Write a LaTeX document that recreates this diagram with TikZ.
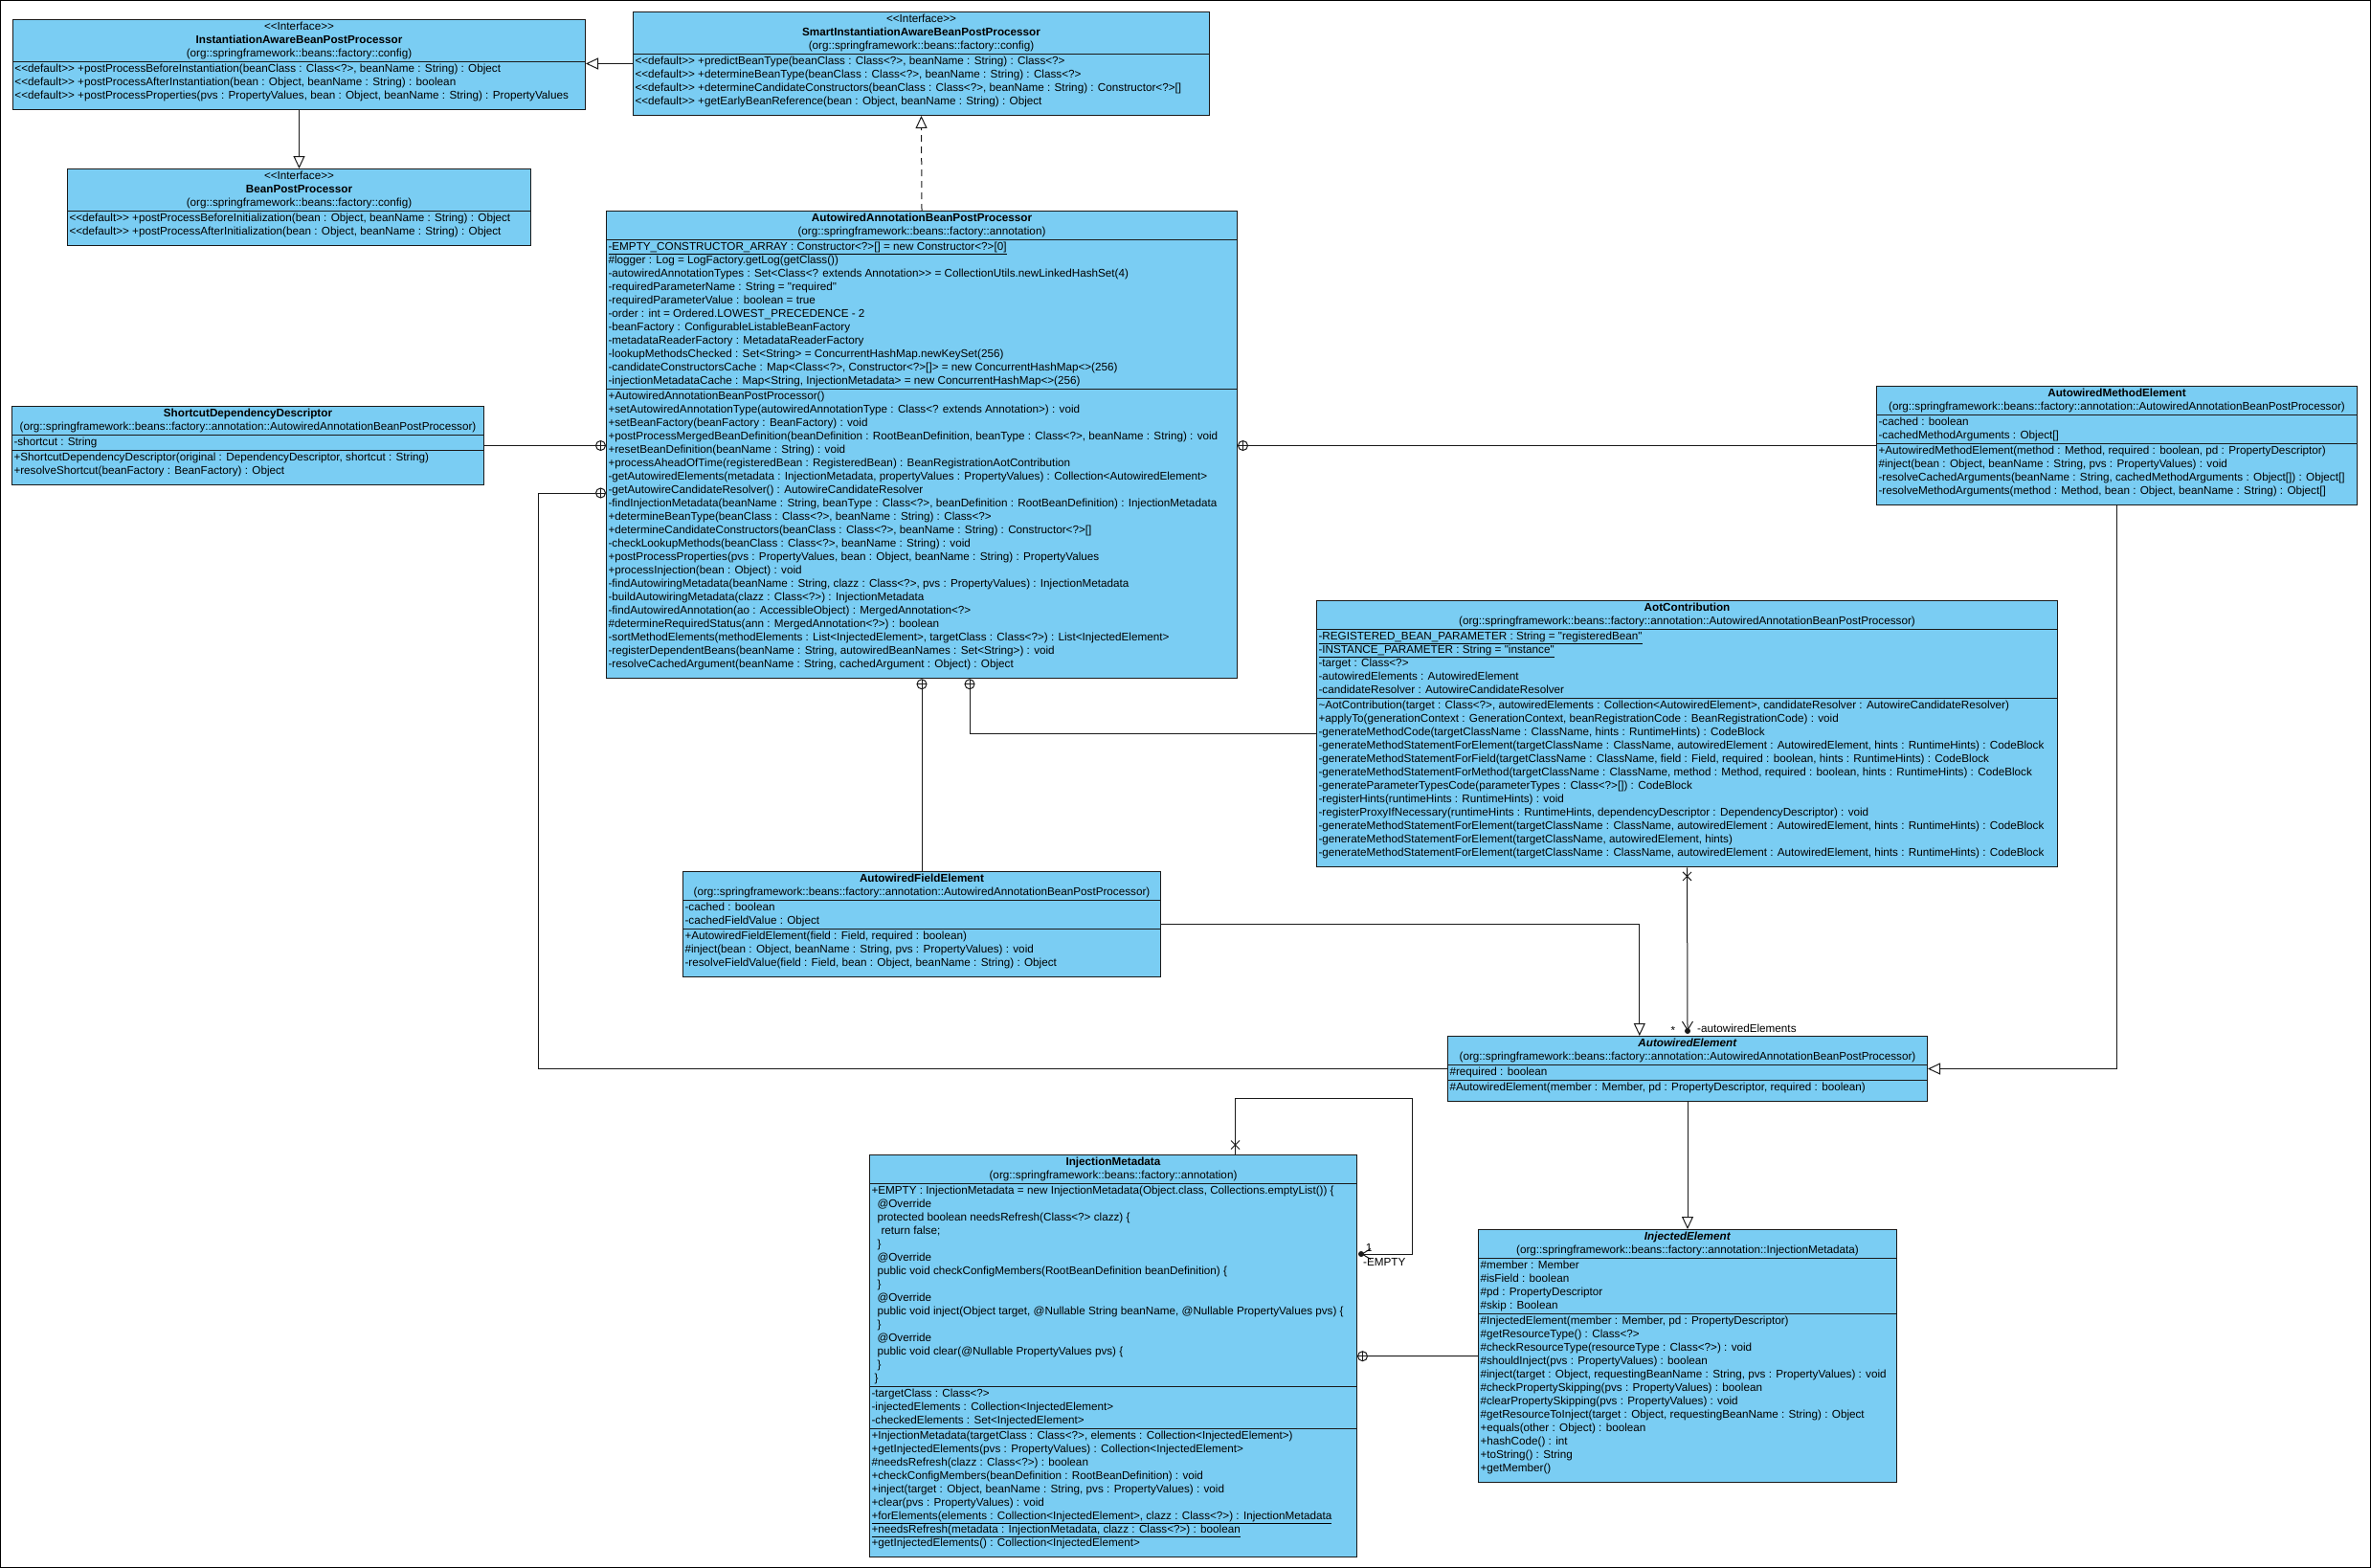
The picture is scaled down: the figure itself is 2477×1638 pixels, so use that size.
\documentclass[tikz,border=0pt]{standalone}
\usepackage{fontspec}
\setmainfont{Liberation Sans}[Ligatures=TeXOff]
\usepackage{tikz}
\usetikzlibrary{arrows.meta,positioning,calc,shapes.multipart,shapes.misc}
\definecolor{clsfill}{HTML}{7ACDF3}
\definecolor{clsline}{HTML}{1A1A1A}
\newcommand{\ifhead}[2]{\begin{tabular}{@{}c@{}}<<Interface>>\\\textbf{#1}\\(#2)\end{tabular}}
\newcommand{\clhead}[2]{\begin{tabular}{@{}c@{}}\textbf{#1}\\(#2)\end{tabular}}
\newcommand{\abhead}[2]{\begin{tabular}{@{}c@{}}\textbf{\textit{#1}}\\(#2)\end{tabular}}
\newcommand{\mbrs}[1]{\begin{tabular}{@{}l@{}}#1\end{tabular}}
\newcommand{\lastmbrs}[1]{\begin{tabular}{@{}l@{}}#1\\[6pt]\end{tabular}}
\newcommand{\pkgap}{org::springframework::beans::factory::annotation::AutowiredAnnotationBeanPostProcessor}
\tikzset{cls/.style={rectangle split,rectangle split parts=3,rectangle split part align={center,left,left,left},draw=clsline,line width=1pt,fill=clsfill,inner xsep=2pt,inner ysep=0.5pt,anchor=north west,font=\fontsize{11.7}{14}\selectfont},ifc/.style={cls,rectangle split parts=2},conn/.style={draw=clsline,line width=1pt},gen/.style={conn,-{Triangle[length=13pt,width=12pt,fill=white]}},real/.style={gen,dash pattern=on 7pt off 5pt},assoc/.style={conn,-{Straight Barb[length=9pt,width=11pt]}},nest/.style={circle,draw=clsline,line width=1pt,fill=white,inner sep=0pt,minimum size=10pt,path picture={\draw[line width=1pt] (path picture bounding box.north)--(path picture bounding box.south) (path picture bounding box.west)--(path picture bounding box.east);}},noend/.style={cross out,draw=clsline,line width=1pt,inner sep=0pt,minimum size=8pt},lbl/.style={inner sep=0pt,font=\fontsize{11.7}{14}\selectfont}}
\begin{document}
\begin{tikzpicture}[x=1pt,y=-1pt]
\useasboundingbox (0,0) rectangle (2477,1638);
\draw[line width=1pt] (0.5,0.5) rectangle (2476.5,1637.5);
\node[ifc,minimum width=598pt] (iabpp) at (13,20) {\ifhead{InstantiationAwareBeanPostProcessor}{org::springframework::beans::factory::config}
\nodepart{two}\lastmbrs{<<default>> +postProcessBeforeInstantiation(beanClass : Class<?>, beanName : String) : Object\\
<<default>> +postProcessAfterInstantiation(bean : Object, beanName : String) : boolean\\
<<default>> +postProcessProperties(pvs : PropertyValues, bean : Object, beanName : String) : PropertyValues}};
\node[ifc,minimum width=484pt] (bpp) at (70,176) {\ifhead{BeanPostProcessor}{org::springframework::beans::factory::config}
\nodepart{two}\lastmbrs{<<default>> +postProcessBeforeInitialization(bean : Object, beanName : String) : Object\\
<<default>> +postProcessAfterInitialization(bean : Object, beanName : String) : Object}};
\node[ifc,minimum width=602pt] (smart) at (661,12) {\ifhead{SmartInstantiationAwareBeanPostProcessor}{org::springframework::beans::factory::config}
\nodepart{two}\lastmbrs{<<default>> +predictBeanType(beanClass : Class<?>, beanName : String) : Class<?>\\
<<default>> +determineBeanType(beanClass : Class<?>, beanName : String) : Class<?>\\
<<default>> +determineCandidateConstructors(beanClass : Class<?>, beanName : String) : Constructor<?>[]\\
<<default>> +getEarlyBeanReference(bean : Object, beanName : String) : Object}};
\node[cls,minimum width=659pt] (aabpp) at (633,220) {\clhead{AutowiredAnnotationBeanPostProcessor}{org::springframework::beans::factory::annotation}
\nodepart{two}\mbrs{\underline{-EMPTY\_CONSTRUCTOR\_ARRAY : Constructor<?>[] = new Constructor<?>[0]}\\
\#logger : Log = LogFactory.getLog(getClass())\\
-autowiredAnnotationTypes : Set<Class<? extends Annotation>> = CollectionUtils.newLinkedHashSet(4)\\
-requiredParameterName : String = "required"\\
-requiredParameterValue : boolean = true\\
-order : int = Ordered.LOWEST\_PRECEDENCE - 2\\
-beanFactory : ConfigurableListableBeanFactory\\
-metadataReaderFactory : MetadataReaderFactory\\
-lookupMethodsChecked : Set<String> = ConcurrentHashMap.newKeySet(256)\\
-candidateConstructorsCache : Map<Class<?>, Constructor<?>[]> = new ConcurrentHashMap<>(256)\\
-injectionMetadataCache : Map<String, InjectionMetadata> = new ConcurrentHashMap<>(256)}
\nodepart{three}\lastmbrs{+AutowiredAnnotationBeanPostProcessor()\\
+setAutowiredAnnotationType(autowiredAnnotationType : Class<? extends Annotation>) : void\\
+setBeanFactory(beanFactory : BeanFactory) : void\\
+postProcessMergedBeanDefinition(beanDefinition : RootBeanDefinition, beanType : Class<?>, beanName : String) : void\\
+resetBeanDefinition(beanName : String) : void\\
+processAheadOfTime(registeredBean : RegisteredBean) : BeanRegistrationAotContribution\\
-getAutowiredElements(metadata : InjectionMetadata, propertyValues : PropertyValues) : Collection<AutowiredElement>\\
-getAutowireCandidateResolver() : AutowireCandidateResolver\\
-findInjectionMetadata(beanName : String, beanType : Class<?>, beanDefinition : RootBeanDefinition) : InjectionMetadata\\
+determineBeanType(beanClass : Class<?>, beanName : String) : Class<?>\\
+determineCandidateConstructors(beanClass : Class<?>, beanName : String) : Constructor<?>[]\\
-checkLookupMethods(beanClass : Class<?>, beanName : String) : void\\
+postProcessProperties(pvs : PropertyValues, bean : Object, beanName : String) : PropertyValues\\
+processInjection(bean : Object) : void\\
-findAutowiringMetadata(beanName : String, clazz : Class<?>, pvs : PropertyValues) : InjectionMetadata\\
-buildAutowiringMetadata(clazz : Class<?>) : InjectionMetadata\\
-findAutowiredAnnotation(ao : AccessibleObject) : MergedAnnotation<?>\\
\#determineRequiredStatus(ann : MergedAnnotation<?>) : boolean\\
-sortMethodElements(methodElements : List<InjectedElement>, targetClass : Class<?>) : List<InjectedElement>\\
-registerDependentBeans(beanName : String, autowiredBeanNames : Set<String>) : void\\
-resolveCachedArgument(beanName : String, cachedArgument : Object) : Object}};
\node[cls,minimum width=493pt] (sdd) at (12,424) {\clhead{ShortcutDependencyDescriptor}{\pkgap}
\nodepart{two}\mbrs{-shortcut : String}
\nodepart{three}\lastmbrs{+ShortcutDependencyDescriptor(original : DependencyDescriptor, shortcut : String)\\
+resolveShortcut(beanFactory : BeanFactory) : Object}};
\node[cls,minimum width=502pt] (ame) at (1960,403) {\clhead{AutowiredMethodElement}{\pkgap}
\nodepart{two}\mbrs{-cached : boolean\\
-cachedMethodArguments : Object[]}
\nodepart{three}\lastmbrs{+AutowiredMethodElement(method : Method, required : boolean, pd : PropertyDescriptor)\\
\#inject(bean : Object, beanName : String, pvs : PropertyValues) : void\\
-resolveCachedArguments(beanName : String, cachedMethodArguments : Object[]) : Object[]\\
-resolveMethodArguments(method : Method, bean : Object, beanName : String) : Object[]}};
\node[cls,minimum width=774pt] (aot) at (1375,627) {\clhead{AotContribution}{\pkgap}
\nodepart{two}\mbrs{\underline{-REGISTERED\_BEAN\_PARAMETER : String = "registeredBean"}\\
\underline{-INSTANCE\_PARAMETER : String = "instance"}\\
-target : Class<?>\\
-autowiredElements : AutowiredElement\\
-candidateResolver : AutowireCandidateResolver}
\nodepart{three}\lastmbrs{\textasciitilde AotContribution(target : Class<?>, autowiredElements : Collection<AutowiredElement>, candidateResolver : AutowireCandidateResolver)\\
+applyTo(generationContext : GenerationContext, beanRegistrationCode : BeanRegistrationCode) : void\\
-generateMethodCode(targetClassName : ClassName, hints : RuntimeHints) : CodeBlock\\
-generateMethodStatementForElement(targetClassName : ClassName, autowiredElement : AutowiredElement, hints : RuntimeHints) : CodeBlock\\
-generateMethodStatementForField(targetClassName : ClassName, field : Field, required : boolean, hints : RuntimeHints) : CodeBlock\\
-generateMethodStatementForMethod(targetClassName : ClassName, method : Method, required : boolean, hints : RuntimeHints) : CodeBlock\\
-generateParameterTypesCode(parameterTypes : Class<?>[]) : CodeBlock\\
-registerHints(runtimeHints : RuntimeHints) : void\\
-registerProxyIfNecessary(runtimeHints : RuntimeHints, dependencyDescriptor : DependencyDescriptor) : void\\
-generateMethodStatementForElement(targetClassName : ClassName, autowiredElement : AutowiredElement, hints : RuntimeHints) : CodeBlock\\
-generateMethodStatementForElement(targetClassName, autowiredElement, hints)\\
-generateMethodStatementForElement(targetClassName : ClassName, autowiredElement : AutowiredElement, hints : RuntimeHints) : CodeBlock}};
\node[cls,minimum width=499pt] (afe) at (713,910) {\clhead{AutowiredFieldElement}{\pkgap}
\nodepart{two}\mbrs{-cached : boolean\\
-cachedFieldValue : Object}
\nodepart{three}\lastmbrs{+AutowiredFieldElement(field : Field, required : boolean)\\
\#inject(bean : Object, beanName : String, pvs : PropertyValues) : void\\
-resolveFieldValue(field : Field, bean : Object, beanName : String) : Object}};
\node[cls,minimum width=501pt] (ae) at (1512,1082) {\abhead{AutowiredElement}{\pkgap}
\nodepart{two}\mbrs{\#required : boolean}
\nodepart{three}\lastmbrs{\#AutowiredElement(member : Member, pd : PropertyDescriptor, required : boolean)}};
\node[cls,rectangle split parts=4,minimum width=509pt] (im) at (908,1206) {\clhead{InjectionMetadata}{org::springframework::beans::factory::annotation}
\nodepart{two}\mbrs{+EMPTY : InjectionMetadata = new InjectionMetadata(Object.class, Collections.emptyList()) \{\\
\hspace{6pt}@Override\\
\hspace{6pt}protected boolean needsRefresh(Class<?> clazz) \{\\
\hspace{10pt}return false;\\
\hspace{6pt}\}\\
\hspace{6pt}@Override\\
\hspace{6pt}public void checkConfigMembers(RootBeanDefinition beanDefinition) \{\\
\hspace{6pt}\}\\
\hspace{6pt}@Override\\
\hspace{6pt}public void inject(Object target, @Nullable String beanName, @Nullable PropertyValues pvs) \{\\
\hspace{6pt}\}\\
\hspace{6pt}@Override\\
\hspace{6pt}public void clear(@Nullable PropertyValues pvs) \{\\
\hspace{6pt}\}\\
\hspace{3pt}\}}
\nodepart{three}\mbrs{-targetClass : Class<?>\\
-injectedElements : Collection<InjectedElement>\\
-checkedElements : Set<InjectedElement>}
\nodepart{four}\lastmbrs{+InjectionMetadata(targetClass : Class<?>, elements : Collection<InjectedElement>)\\
+getInjectedElements(pvs : PropertyValues) : Collection<InjectedElement>\\
\#needsRefresh(clazz : Class<?>) : boolean\\
+checkConfigMembers(beanDefinition : RootBeanDefinition) : void\\
+inject(target : Object, beanName : String, pvs : PropertyValues) : void\\
+clear(pvs : PropertyValues) : void\\
\underline{+forElements(elements : Collection<InjectedElement>, clazz : Class<?>) : InjectionMetadata}\\
\underline{+needsRefresh(metadata : InjectionMetadata, clazz : Class<?>) : boolean}\\
+getInjectedElements() : Collection<InjectedElement>}};
\node[cls,minimum width=437pt] (ie) at (1544,1284) {\abhead{InjectedElement}{org::springframework::beans::factory::annotation::InjectionMetadata}
\nodepart{two}\mbrs{\#member : Member\\
\#isField : boolean\\
\#pd : PropertyDescriptor\\
\#skip : Boolean}
\nodepart{three}\lastmbrs{\#InjectedElement(member : Member, pd : PropertyDescriptor)\\
\#getResourceType() : Class<?>\\
\#checkResourceType(resourceType : Class<?>) : void\\
\#shouldInject(pvs : PropertyValues) : boolean\\
\#inject(target : Object, requestingBeanName : String, pvs : PropertyValues) : void\\
\#checkPropertySkipping(pvs : PropertyValues) : boolean\\
\#clearPropertySkipping(pvs : PropertyValues) : void\\
\#getResourceToInject(target : Object, requestingBeanName : String) : Object\\
+equals(other : Object) : boolean\\
+hashCode() : int\\
+toString() : String\\
+getMember()}};
\draw[gen] (smart.west) -- (smart.west -| iabpp.east);
\draw[gen] (iabpp.south) -- (bpp.north);
\draw[real] (aabpp.north) -- (smart.south);
\node[nest,anchor=east] (n1) at (aabpp.west |- sdd.east) {};
\draw[conn] (sdd.east) -- (n1);
\node[nest,anchor=west] (n2) at (aabpp.east |- ame.west) {};
\draw[conn] (ame.west) -- (n2);
\coordinate (kae) at (562,515);
\node[nest,anchor=east] (n3) at (aabpp.west |- kae) {};
\draw[conn] (n3) -| (kae |- ae.west) -- (ae.west);
\node[nest,anchor=north] (n4) at (aabpp.south) {};
\draw[conn] (n4) -- (afe.north);
\coordinate (kaot) at (1013,0);
\node[nest,anchor=north] (n5) at (kaot |- aabpp.south) {};
\draw[conn] (n5) |- (aot.west);
\draw[gen] (afe.east) -| ($(ae.north west)!.4!(ae.north east)$);
\draw[gen] (ame.south) |- (ae.east);
\coordinate (aetop) at ($(ae.north)+(0,-5)$);
\draw[assoc] (aot.south) -- (aetop);
\fill[clsline] (aetop) circle (3pt);
\node[noend] (x1) at ($(aot.south)+(0,9)$) {};
\node[lbl] (m1) at (1748,1076) {*};
\node[lbl,anchor=west] (r1) at (1773,1074) {-autowiredElements};
\draw[gen] (ae.south) -- (ie.north);
\coordinate (s1) at ($(im.north west)!.75!(im.north east)$);
\coordinate (kempty) at (1475,1147);
\coordinate (imend) at ($(im.north east)+(4,104)$);
\draw[assoc] (s1) |- (kempty) |- (imend);
\fill[clsline] (imend) circle (3pt);
\node[noend] (x2) at ($(s1)+(0,-10)$) {};
\node[lbl] (m2) at (1430,1303) {1};
\node[lbl,anchor=west] (r2) at (1424,1318) {-EMPTY};
\node[nest,anchor=west] (n6) at (im.east) {};
\draw[conn] (ie.west) -- (n6);
\end{tikzpicture}
\end{document}
